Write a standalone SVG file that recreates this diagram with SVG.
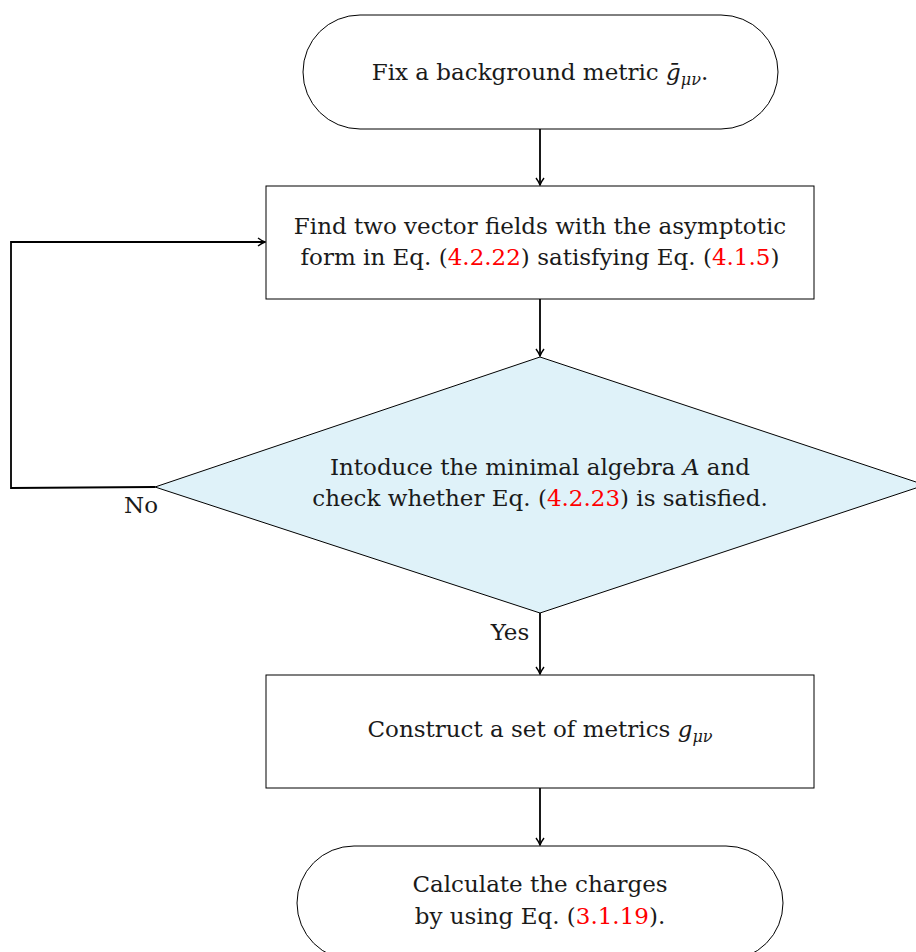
<svg xmlns="http://www.w3.org/2000/svg" width="916" height="952" viewBox="0 0 916 952">
<defs>
<marker id="arr" viewBox="0 0 10 10" refX="9" refY="5" markerWidth="10" markerHeight="10" markerUnits="userSpaceOnUse" orient="auto">
<path d="M2,1 Q6,4 9,5 Q6,6 2,9" fill="none" stroke="#000" stroke-width="1.4"/>
</marker>
</defs>
<style>
.s{fill:#fff;stroke:#000;stroke-width:1}
.d{fill:#dff2f9;stroke:#000;stroke-width:1}
.c{fill:none;stroke:#000;stroke-width:1.8}
text{font-family:"DejaVu Serif",serif;font-size:23px;fill:#1a1a1a}
.m{text-anchor:middle}
.r{fill:#ff0000}
.i{font-style:italic}
</style>
<rect width="916" height="952" fill="#fff"/>
<g id="connectors">
<line class="c" x1="540" y1="129" x2="540" y2="185" marker-end="url(#arr)"/>
<line class="c" x1="540" y1="299" x2="540" y2="356" marker-end="url(#arr)"/>
<line class="c" x1="540" y1="613" x2="540" y2="674" marker-end="url(#arr)"/>
<line class="c" x1="540" y1="788" x2="540" y2="845" marker-end="url(#arr)"/>
<polyline class="c" points="155,487 11,488 11,242 265,242" marker-end="url(#arr)"/>
<text class="m" x="141" y="513">No</text>
<text class="m" x="510" y="640">Yes</text>
</g>
<g id="start">
<rect class="s" x="303" y="15" width="475" height="114" rx="57" ry="57"/>
<text class="m" x="540" y="80">Fix a background metric <tspan class="i">ḡ</tspan><tspan class="i" font-size="16" dy="5">μν</tspan><tspan dy="-5">.</tspan></text>
</g>
<g id="find">
<rect class="s" x="266" y="186" width="548" height="113"/>
<text class="m" x="540" y="234">Find two vector fields with the asymptotic</text>
<text class="m" x="540" y="265">form in Eq. (<tspan class="r">4.2.22</tspan>) satisfying Eq. (<tspan class="r">4.1.5</tspan>)</text>
</g>
<g id="decision">
<polygon class="d" points="540,357 925,485 540,613 155,487"/>
<text class="m" x="540" y="475">Intoduce the minimal algebra <tspan class="i">A</tspan> and</text>
<text class="m" x="540" y="506">check whether Eq. (<tspan class="r">4.2.23</tspan>) is satisfied.</text>
</g>
<g id="construct">
<rect class="s" x="266" y="675" width="548" height="113"/>
<text class="m" x="540" y="737">Construct a set of metrics <tspan class="i">g</tspan><tspan class="i" font-size="16" dy="5">μν</tspan></text>
</g>
<g id="end">
<rect class="s" x="297" y="846" width="486" height="114" rx="57" ry="57"/>
<text class="m" x="540" y="892">Calculate the charges</text>
<text class="m" x="540" y="924">by using Eq. (<tspan class="r">3.1.19</tspan>).</text>
</g>
</svg>
